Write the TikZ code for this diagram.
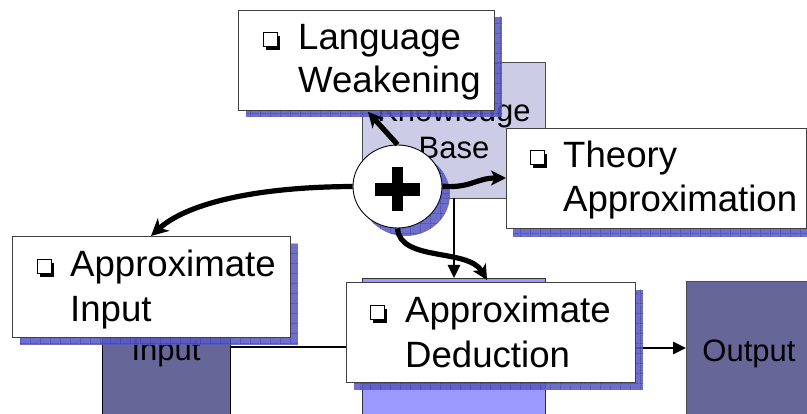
\documentclass[tikz,border=0pt]{standalone}
\usepackage{fontspec}
\setmainfont{Liberation Sans}
\usetikzlibrary{arrows.meta,shapes.geometric,calc,patterns.meta}
\definecolor{kbfill}{RGB}{204,204,230}
\definecolor{darkbox}{RGB}{102,102,153}
\definecolor{inffill}{RGB}{153,153,255}
\definecolor{shad}{RGB}{90,90,196}
\definecolor{shadgrid}{RGB}{40,40,150}
\tikzdeclarepattern{name=shgrid,type=uncolored,
  bounding box={(0pt,0pt) and (10pt,10pt)},tile size={(10pt,10pt)},
  code={\draw[line width=0.7pt] (0pt,0pt) -- (10pt,0pt) (0pt,0pt) -- (0pt,10pt);}}
\newcommand\sqbullet[2]{%
  \fill (#1+3,#2-14) rectangle ++(14,14);
  \filldraw[fill=white,draw=black,line width=1pt] (#1,#2-17) rectangle ++(14,14);}
\begin{document}
\begin{tikzpicture}[x=1pt,y=-1pt,
  base/.style={rectangle,anchor=north west,inner sep=0pt,outer sep=0pt},
  wbox/.style={base,draw=black!75,fill=white,line width=0.9pt},
  sbox/.style={base,fill=shad,fill opacity=0.88,postaction={pattern=shgrid,pattern color=shadgrid}},
  cbox/.style={base,draw=black!70,line width=0.8pt},
  bigtxt/.style={inner sep=0pt,anchor=base west,font=\fontsize{36.6}{43}\selectfont},
  midtxt/.style={inner sep=0pt,anchor=base,font=\fontsize{31}{37}\selectfont},
  thickarrow/.style={line width=5.2pt,-{Stealth[length=17pt,width=17pt,inset=5pt]}},
  medarrow/.style={line width=5.2pt,-{Stealth[length=15pt,width=15pt,inset=4pt]}},
  thinarrow/.style={line width=2.8pt,-{Triangle[length=13pt,width=12pt]}},
]
\useasboundingbox (0,0) rectangle (807,414);
\clip (0,0) rectangle (807,414);
\fill[white] (0,0) rectangle (807,414);

% background boxes
\node[cbox,fill=kbfill,minimum width=183,minimum height=136] (kb) at (362,62) {};
\node[cbox,fill=darkbox,draw=black,minimum width=128,minimum height=130] (inp) at (102,300) {};
\node[cbox,fill=inffill,draw=black!80,minimum width=183,minimum height=150] (inf) at (362,278) {};
\node[cbox,fill=darkbox,draw=black!70,minimum width=140,minimum height=150] (out) at (686,281) {};
\node[midtxt] (kbt1) at (454,122) {Knowledge};
\node[midtxt] (kbt2) at (454,159) {Base};
\node[midtxt] (inpt) at (166,361) {Input};
\node[midtxt] (outt) at (749,362) {Output};

% thin connectors
\draw[thinarrow] (inp.east |- 0,347) -- (inf.west |- 0,347);
\draw[thinarrow] (inf.east |- 0,348) -- (out.west |- 0,348);
\draw[thinarrow] (kb.south -| 454,0) -- (inf.north -| 454,0);

% shadows and white boxes
\node[sbox,minimum width=256,minimum height=100] (lwsh) at (246,17) {};
\node[wbox,minimum width=256,minimum height=100] (lw) at (238,10) {};
\node[sbox,minimum width=300,minimum height=100] (thsh) at (513,137) {};
\node[wbox,minimum width=300,minimum height=100] (th) at (506,128) {};
\node[sbox,minimum width=278,minimum height=101] (aish) at (20,244) {};
\node[wbox,minimum width=278,minimum height=101] (ai) at (12,236) {};
\node[sbox,minimum width=289,minimum height=100] (adsh) at (354,290) {};
\node[wbox,minimum width=289,minimum height=100] (ad) at (346,282) {};

% texts
\sqbullet{263}{50}
\node[bigtxt] (lwt1) at (298,50) {Language};
\node[bigtxt] (lwt2) at (298,93) {Weakening};
\sqbullet{530}{168}
\node[bigtxt] (tht1) at (563,168) {Theory};
\node[bigtxt] (tht2) at (563,212) {Approximation};
\sqbullet{37}{277}
\node[bigtxt] (ait1) at (70,277) {Approximate};
\node[bigtxt] (ait2) at (70,322) {Input};
\sqbullet{370}{323}
\node[bigtxt] (adt1) at (405,323) {Approximate};
\node[bigtxt] (adt2) at (405,368) {Deduction};

% plus circle
\node[ellipse,fill=shad,fill opacity=0.88,postaction={pattern=shgrid,pattern color=shadgrid},minimum width=89,minimum height=83,inner sep=0pt] (plussh) at (405.5,194.5) {};
\node[ellipse,draw=black,fill=white,line width=0.9pt,minimum width=89,minimum height=83,inner sep=0pt] (plus) at (397.5,186.5) {};
\fill ($(plus.center)+(-22.5,-3.5)$) rectangle ++(45,13);
\fill ($(plus.center)+(-5.5,-19.5)$) rectangle ++(11,44);

% thick arrows
\draw[thickarrow] (plus.west) .. controls (250,187) and (185,205) .. ($(ai.north west)+(139,0)$);
\draw[medarrow] (plus.north) -- ($(lw.south west)+(130,2)$);
\draw[medarrow] (plus.east) .. controls (472,188) and (476,178) .. ($(th.north west)+(0,50)$);
\draw[medarrow] (plus.south) .. controls (400,262) and (468,248) .. ($(inf.north west)+(125,2)$);
\end{tikzpicture}
\end{document}
